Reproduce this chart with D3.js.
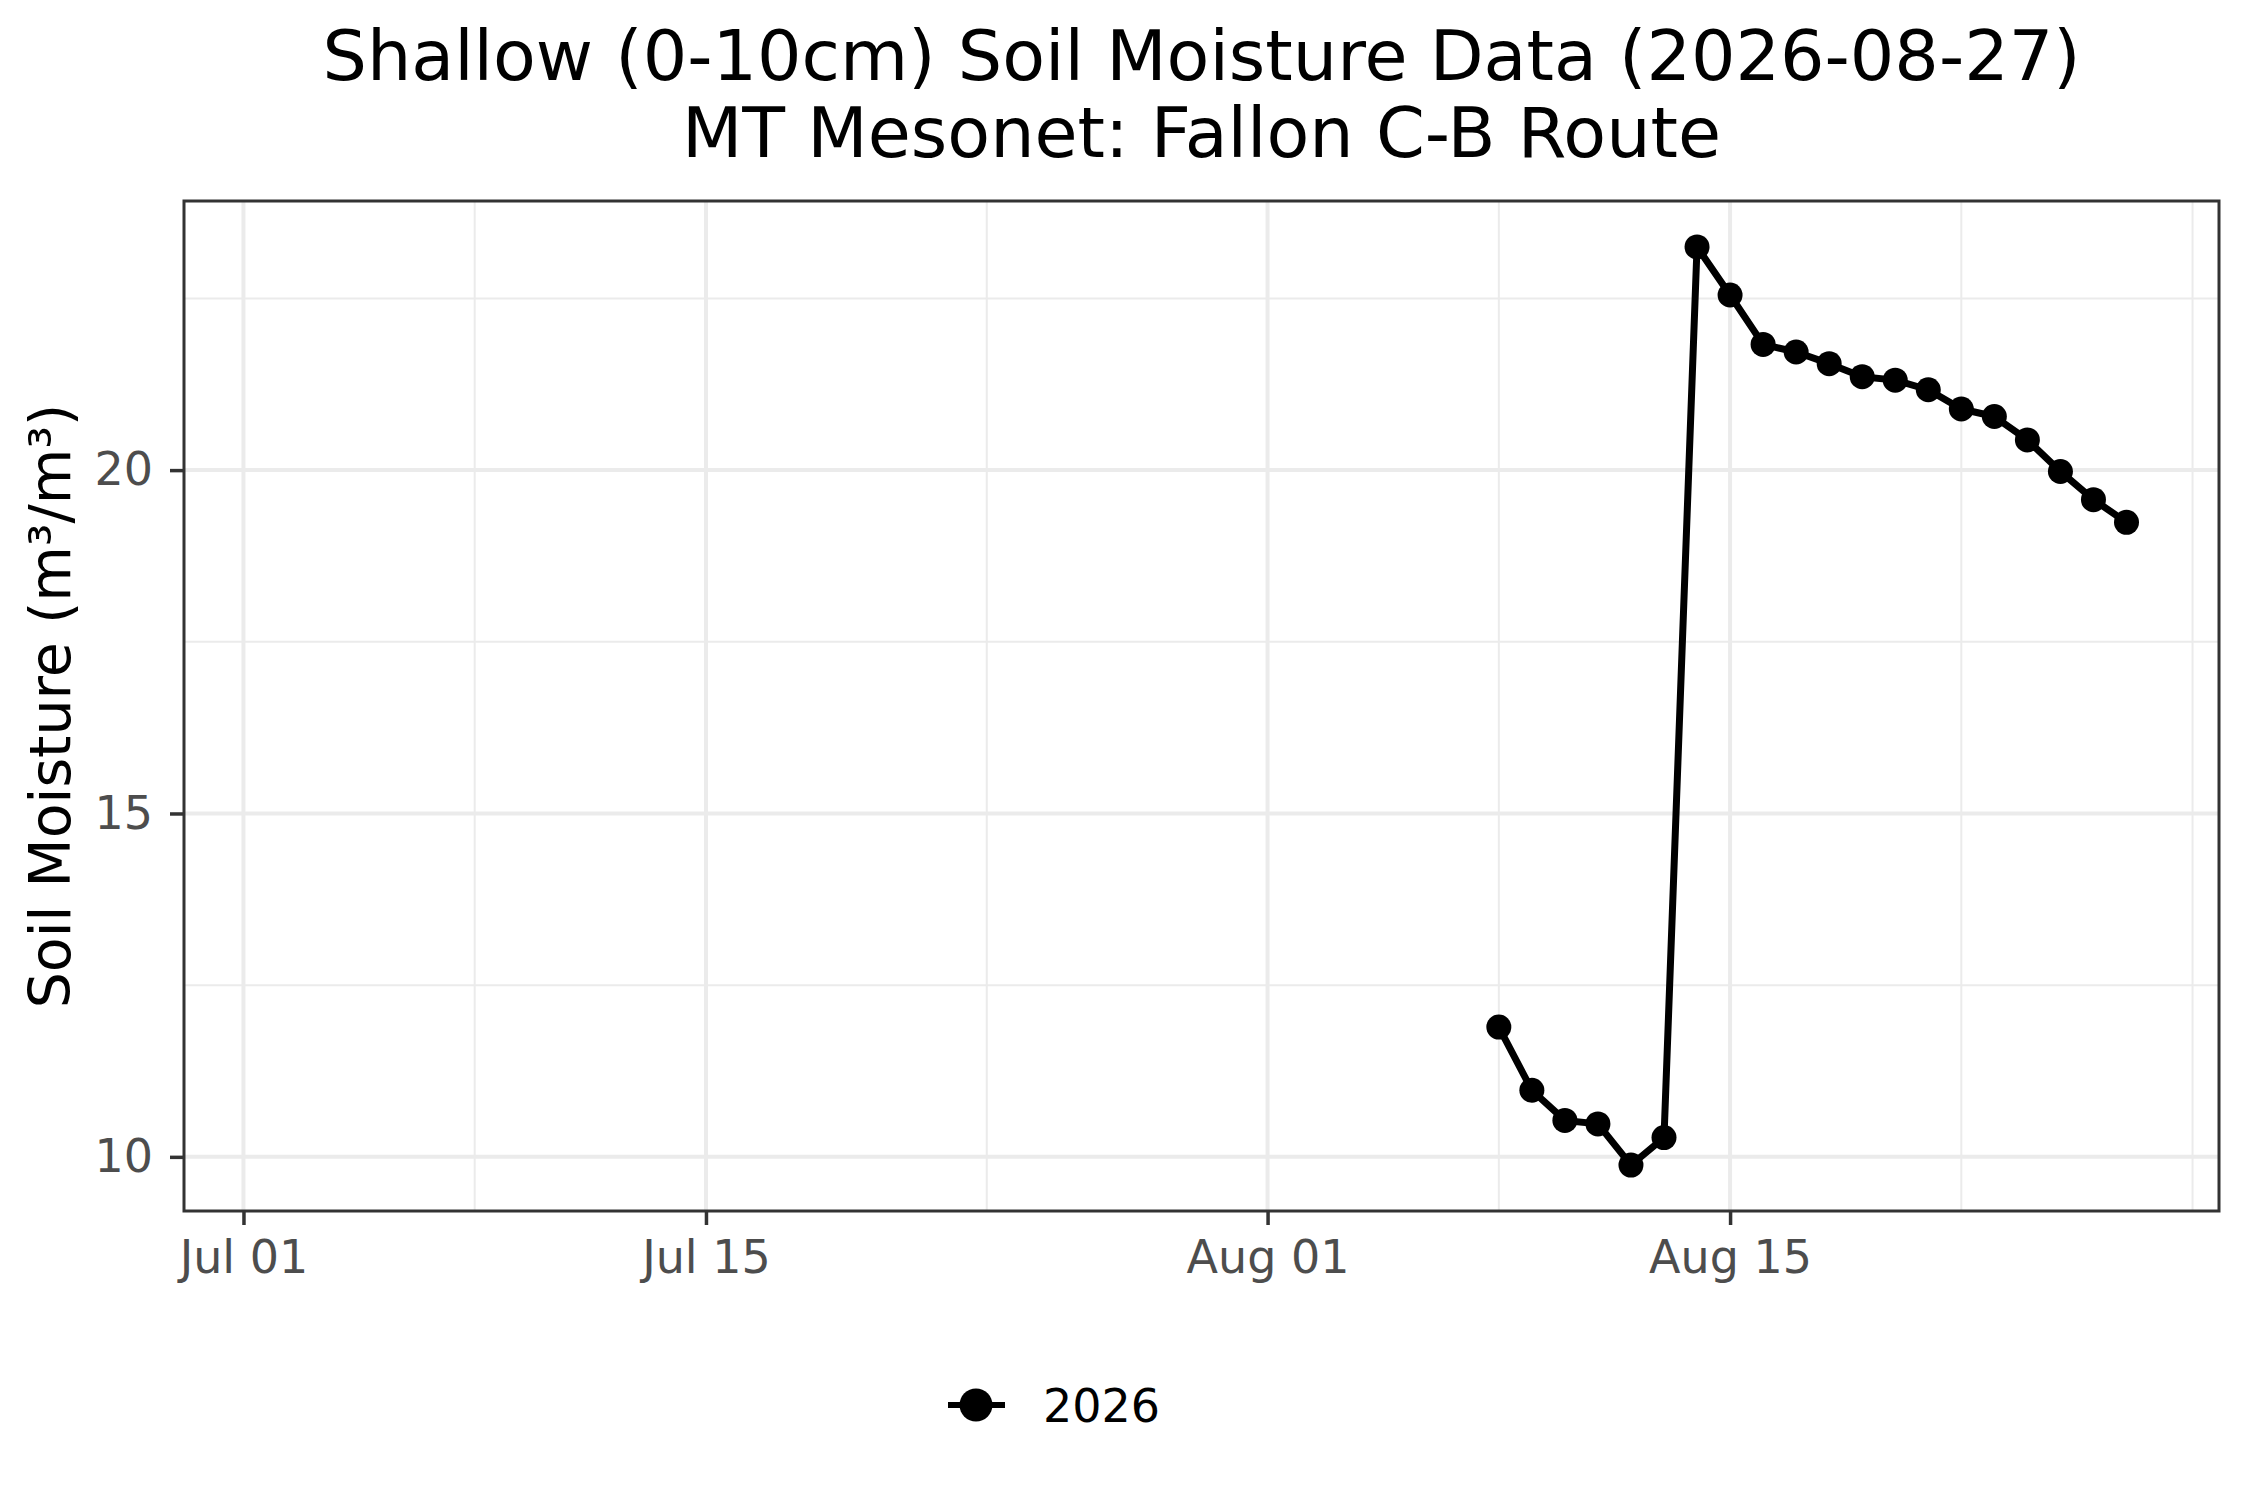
<!DOCTYPE html>
<html>

<head>
    <meta charset="UTF-8">
    <style>
        body { margin: 0; background: #fff; }
        svg { display: block; font-family: "DejaVu Sans", sans-serif; }
    </style>
</head>

<body>
    <svg></svg>
    <script src="https://d3js.org/d3.v7.min.js"></script>

    <script>

        let width = 2250, height = 1500;

        // data
        const dates = ["2026-08-08", "2026-08-09", "2026-08-10", "2026-08-11", "2026-08-12",
            "2026-08-13", "2026-08-14", "2026-08-15", "2026-08-16", "2026-08-17",
            "2026-08-18", "2026-08-19", "2026-08-20", "2026-08-21", "2026-08-22",
            "2026-08-23", "2026-08-24", "2026-08-25", "2026-08-26", "2026-08-27"];
        const moisture = [11.89, 10.97, 10.53, 10.48, 9.88, 10.28, 23.25, 22.55, 21.83, 21.72,
            21.55, 21.36, 21.31, 21.17, 20.89, 20.78, 20.44, 19.98, 19.57, 19.24];

        const xLimits = ["2026-07-02", "2026-08-27"];
        const xBreaks = ["2026-07-01", "2026-07-15", "2026-08-01", "2026-08-15"];
        const xMinor = ["2026-07-08", "2026-07-23T12:00", "2026-08-08", "2026-08-22", "2026-08-29"];
        const yBreaks = [10, 15, 20];
        const yMinor = [12.5, 17.5, 22.5];

        const titleLines = ["Shallow (0-10cm) Soil Moisture Data (2026-08-27)",
            "MT Mesonet: Fallon C-B Route"];
        const yTitle = "Soil Moisture (m³/m³)";
        const seriesName = "2026";

        let parse = s => new Date(s + (s.length > 10 ? ":00Z" : "T00:00:00Z"));

        let data = dates.map((d, i) => ({ date: parse(d), value: moisture[i] }));

        let margin = { left: 184, right: 2219, top: 201, bottom: 1211 };

        let svg = d3.select("svg")
            .attr("width", width)
            .attr("height", height);

        // ggplot-like 5% expansion
        let xl = xLimits.map(parse);
        let xPad = (xl[1] - xl[0]) * 0.05;
        let x = d3.scaleUtc()
            .domain([new Date(+xl[0] - xPad), new Date(+xl[1] + xPad)])
            .range([margin.left, margin.right]);

        let yExt = d3.extent(moisture);
        let yPad = (yExt[1] - yExt[0]) * 0.05;
        let y = d3.scaleLinear()
            .domain([yExt[0] - yPad, yExt[1] + yPad])
            .range([margin.bottom, margin.top]);

        // grid
        let grid = svg.append("g").attr("id", "grid");
        grid.selectAll(".ymin").data(yMinor).enter().append("line")
            .attr("x1", margin.left).attr("x2", margin.right)
            .attr("y1", d => y(d)).attr("y2", d => y(d))
            .attr("stroke", "#EBEBEB").attr("stroke-width", 2);
        grid.selectAll(".xmin").data(xMinor.map(parse)).enter().append("line")
            .attr("y1", margin.top).attr("y2", margin.bottom)
            .attr("x1", d => x(d)).attr("x2", d => x(d))
            .attr("stroke", "#EBEBEB").attr("stroke-width", 2);
        grid.selectAll(".ymaj").data(yBreaks).enter().append("line")
            .attr("x1", margin.left).attr("x2", margin.right)
            .attr("y1", d => y(d)).attr("y2", d => y(d))
            .attr("stroke", "#EBEBEB").attr("stroke-width", 4);
        grid.selectAll(".xmaj").data(xBreaks.map(parse)).enter().append("line")
            .attr("y1", margin.top).attr("y2", margin.bottom)
            .attr("x1", d => x(d)).attr("x2", d => x(d))
            .attr("stroke", "#EBEBEB").attr("stroke-width", 4);

        // series
        let line = d3.line()
            .x(d => x(d.date))
            .y(d => y(d.value));

        svg.append("path")
            .datum(data)
            .attr("d", line)
            .attr("fill", "none")
            .attr("stroke", "black")
            .attr("stroke-width", 7)
            .attr("stroke-linejoin", "round");

        svg.append("g")
            .selectAll("circle")
            .data(data)
            .enter()
            .append("circle")
            .attr("cx", d => x(d.date))
            .attr("cy", d => y(d.value))
            .attr("r", 12.5)
            .attr("fill", "black");

        // panel border
        svg.append("rect")
            .attr("x", margin.left).attr("y", margin.top)
            .attr("width", margin.right - margin.left)
            .attr("height", margin.bottom - margin.top)
            .attr("fill", "none")
            .attr("stroke", "#333333")
            .attr("stroke-width", 3);

        // axes
        let xAxis = svg.append("g")
            .attr("transform", "translate(0," + margin.bottom + ")")
            .call(d3.axisBottom(x)
                .tickValues(xBreaks.map(parse))
                .tickFormat(d3.utcFormat("%b %d"))
                .tickSize(14)
                .tickPadding(15));

        let yAxis = svg.append("g")
            .attr("transform", "translate(" + margin.left + ",0)")
            .call(d3.axisLeft(y)
                .tickValues(yBreaks)
                .tickFormat(d3.format("d"))
                .tickSize(14)
                .tickPadding(17));

        [xAxis, yAxis].forEach(a => {
            a.select(".domain").remove();
            a.selectAll(".tick line").attr("stroke", "#333333").attr("stroke-width", 3.5);
            a.selectAll(".tick text")
                .attr("fill", "#4D4D4D")
                .style("font-size", "46px")
                .style("font-family", "DejaVu Sans");
        });

        // titles
        svg.append("g")
            .selectAll("text")
            .data(titleLines)
            .enter()
            .append("text")
            .attr("x", (margin.left + margin.right) / 2)
            .attr("y", (d, i) => 80 + i * 77)
            .attr("text-anchor", "middle")
            .style("font-size", "70px")
            .attr("fill", "black")
            .text(d => d);

        svg.append("text")
            .attr("transform", "translate(70," + (margin.top + margin.bottom) / 2 + ") rotate(-90)")
            .attr("text-anchor", "middle")
            .style("font-size", "57px")
            .attr("fill", "black")
            .text(yTitle);

        // legend
        let legend = svg.append("g")
            .attr("transform", "translate(976,1405)");

        legend.append("line")
            .attr("x1", -28).attr("x2", 29)
            .attr("stroke", "black")
            .attr("stroke-width", 6);

        legend.append("circle")
            .attr("r", 16.5)
            .attr("fill", "black");

        legend.append("text")
            .attr("x", 67)
            .attr("y", 17)
            .style("font-size", "46px")
            .attr("fill", "black")
            .text(seriesName);

    </script>

</body>

</html>
